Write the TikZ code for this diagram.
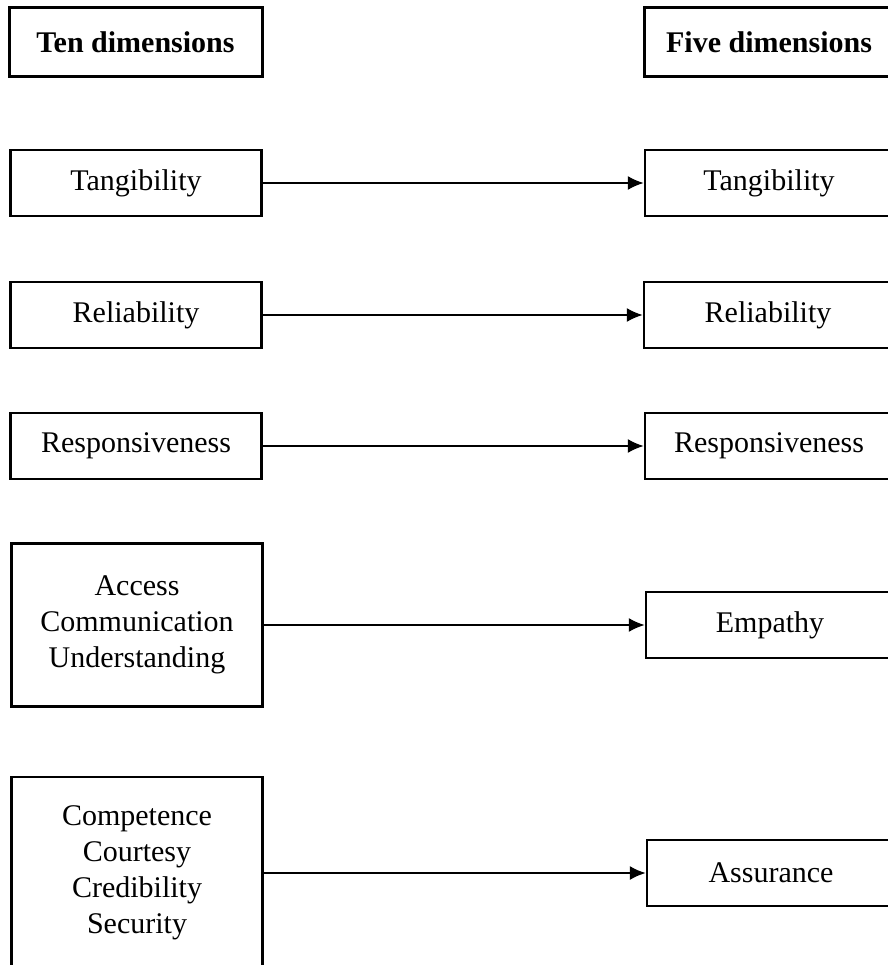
\documentclass[tikz,border=0pt]{standalone}
\usepackage{fontspec}
\setmainfont{Liberation Serif}
\usetikzlibrary{arrows.meta}
\begin{document}
\begin{tikzpicture}[x=1pt,y=-1pt,>={Latex[length=16pt,width=14pt]},
    dimbox/.style={draw,line width=2.2pt,minimum height=66pt,inner sep=0pt,
        align=center,font=\fontsize{30}{36}\selectfont},
    tenbox/.style={dimbox,minimum width=251pt},
    fivebox/.style={dimbox,minimum width=248pt},
    headbox/.style={draw,line width=3pt,minimum height=69pt,inner sep=0pt,
        font=\fontsize{30}{36}\selectfont\bfseries}]
        \useasboundingbox (0,0) rectangle (887,965);
        % headings
        \node[headbox,minimum width=253pt] (tenhead) at (135.5,42.5) {Ten dimensions};
        \node[headbox,minimum width=250pt] (fivehead) at (769,42.5) {Five dimensions};
        % left column: the ten dimensions
        \node[tenbox] (tang1) at (136,183) {Tangibility};
        \node[tenbox] (reli1) at (136,315) {Reliability};
        \node[tenbox] (resp1) at (136,446) {Responsiveness};
        \node[tenbox,minimum height=163pt] (acce1) at (137,625) {Access\\Communication\\Understanding};
        \node[tenbox,minimum height=192pt] (comp1) at (137,873) {Competence\\Courtesy\\Credibility\\Security};
        % right column: the five dimensions
        \node[fivebox] (tang2) at (769,183) {Tangibility};
        \node[fivebox] (reli2) at (768,315) {Reliability};
        \node[fivebox] (resp2) at (769,446) {Responsiveness};
        \node[fivebox] (empa2) at (770,625) {Empathy};
        \node[fivebox] (assu2) at (771,873) {Assurance};
        % arrows
        \draw[->,line width=2.2pt] (tang1)--(tang2);
        \draw[->,line width=2.2pt] (reli1)--(reli2);
        \draw[->,line width=2.2pt] (resp1)--(resp2);
        \draw[->,line width=2.2pt] (acce1)--(empa2);
        \draw[->,line width=2.2pt] (comp1)--(assu2);
\end{tikzpicture}
\end{document}
